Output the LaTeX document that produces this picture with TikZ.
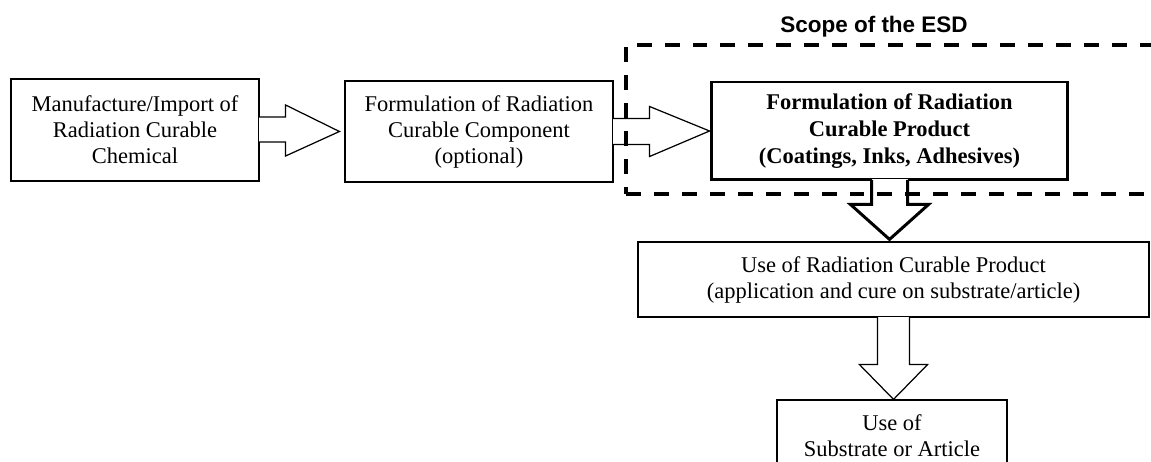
\documentclass[tikz,border=0pt]{standalone}
\usepackage{fontspec}
\setmainfont{Liberation Serif}
\newfontfamily\judulfont{Liberation Sans}
\usepackage{tikz}
\usetikzlibrary{calc}

\begin{document}
\begin{tikzpicture}[
    x=0.02cm, y=-0.02cm,
    font=\fontsize{12.8}{14.8}\selectfont,
    kotak/.style={draw, line width=0.7pt, inner sep=0pt, align=center},
    kotaktebal/.style={kotak, line width=1.7pt,
                       font=\fontsize{12.8}{15.2}\selectfont\bfseries},
    panah/.style={draw, line width=0.7pt, line cap=rect},
    panahtebal/.style={panah, line width=1.7pt},
    hapus/.style={fill=white},
    lingkup/.style={draw, line width=2pt, dash pattern=on 8.5pt off 7.4pt,
                    inner sep=0pt}
  ]
    \clip (0,0) rectangle (1151,462);

    \node[kotak, minimum width=4.96cm, minimum height=2.04cm] (buat) at (135,130)
        {Manufacture/Import of\\Radiation Curable\\Chemical};
    \node[kotak, minimum width=5.36cm, minimum height=2.02cm] (formkomp) at (479,131.5)
        {Formulation of Radiation\\Curable Component\\(optional)};
    \node[kotaktebal, minimum width=7.14cm, minimum height=1.96cm] (formprod) at (889.5,131)
        {Formulation of Radiation\\Curable Product\\(Coatings, Inks, Adhesives)};
    \node[kotak, minimum width=10.22cm, minimum height=1.5cm] (pakai) at (893.5,279.5)
        {Use of Radiation Curable Product\\(application and cure on substrate/article)};
    \node[kotak, minimum width=4.6cm, minimum height=1.44cm] (subs) at (892,436)
        {Use of\\Substrate or Article};

    \fill[hapus] ($(buat.east)+(-1,-13)$) rectangle ($(buat.east)+(1,12)$);
    \draw[panah] ($(buat.east)+(0,-13)$) -- ++(26,0) -- ++(0,-12) -- ($(formkomp.west)+(-5,0)$)
        -- ($(buat.east)+(26,26)$) -- ++(0,-14) -- ($(buat.east)+(0,12)$);

    \fill[hapus] ($(formkomp.east)+(-1,-13)$) rectangle ($(formkomp.east)+(1,13)$);
    \draw[panah] ($(formkomp.east)+(0,-13)$) -- ++(36,0) -- ++(0,-12) -- (formprod.west)
        -- ($(formkomp.east)+(36,25)$) -- ++(0,-12) -- ($(formkomp.east)+(0,13)$);

    \fill[hapus] ($(formprod.south)+(-18,-2)$) rectangle ($(formprod.south)+(18,2)$);
    \draw[panahtebal] ($(formprod.south)+(-18,0)$) -- ++(0,23) -- ++(-21,0)
        -- ($(formprod.south |- pakai.north)+(0,-2)$)
        -- ($(formprod.south)+(39,23)$) -- ++(-21,0) -- ++(0,-23);

    \fill[hapus] ($(pakai.south)+(-16,-1)$) rectangle ($(pakai.south)+(16,1)$);
    \draw[panah] ($(pakai.south)+(-16,0)$) -- ++(0,47) -- ++(-18,0) -- (pakai.south |- subs.north)
        -- ($(pakai.south)+(34,47)$) -- ++(-18,0) -- ++(0,-47);

    \node[lingkup, minimum width=10.78cm, minimum height=2.98cm] (esd) at (895.5,119.5) {};
    \node[font=\judulfont\bfseries\fontsize{12.8}{14}\selectfont, anchor=base] (judul)
        at (874,33) {Scope of the ESD};
  \end{tikzpicture}
\end{document}
